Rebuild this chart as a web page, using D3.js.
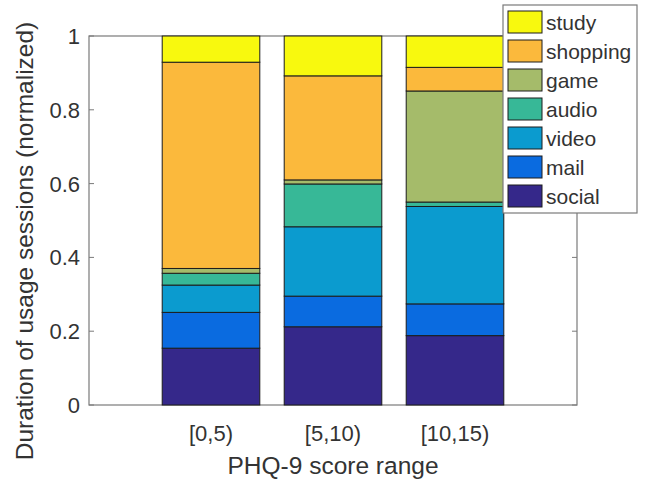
<!DOCTYPE html>
<html>
<head>
<meta charset="utf-8">
<script src="https://cdn.jsdelivr.net/npm/d3@7"></script>
<style>
  html, body { margin: 0; padding: 0; background: #fff; }
  svg { display: block; font-family: "Liberation Sans", Arial, sans-serif; }
</style>
</head>
<body>
<svg id="chart" width="652" height="485"></svg>
<script>
// ---- data ----
const categories = ["[0,5)", "[5,10)", "[10,15)"];
const seriesNames = ["social", "mail", "video", "audio", "game", "shopping", "study"];
const social   = [0.154, 0.212, 0.188];
const mail     = [0.097, 0.083, 0.086];
const video    = [0.074, 0.188, 0.264];
const audio    = [0.032, 0.116, 0.012];
const game     = [0.013, 0.011, 0.301];
const shopping = [0.559, 0.282, 0.064];
const study    = [0.071, 0.108, 0.085];
const yTicks = [0, 0.2, 0.4, 0.6, 0.8, 1];
const yTickLabels = ["0", "0.2", "0.4", "0.6", "0.8", "1"];
const colors = ["#35288a", "#0a6be0", "#0b9bcf", "#37b897", "#a5bb6a", "#fbb93c", "#f8f90e"];

const seriesValues = [social, mail, video, audio, game, shopping, study];
const table = categories.map((c, i) => {
  const row = { cat: c, idx: i + 1 };
  seriesNames.forEach((s, k) => { row[s] = seriesValues[k][i]; });
  return row;
});

const svg = d3.select("#chart");
const pLeft = 89, pRight = 577, pTop = 36, pBottom = 405;
const x = d3.scaleLinear().domain([0, 4]).range([pLeft, pRight]);
const y = d3.scaleLinear().domain([0, 1]).range([pBottom, pTop]);
const barW = 0.8;
const axisColor = "#7a7a7a";
const textColor = "#333333";

// axes box
const g = svg.append("g");
g.append("rect").attr("x", pLeft).attr("y", pTop).attr("width", pRight - pLeft).attr("height", pBottom - pTop)
  .attr("fill", "none").attr("stroke", axisColor).attr("stroke-width", 1.2);

// inward ticks (mirrored)
const tickLen = 5;
yTicks.forEach(t => {
  g.append("line").attr("x1", pLeft).attr("x2", pLeft + tickLen).attr("y1", y(t)).attr("y2", y(t)).attr("stroke", axisColor);
  g.append("line").attr("x1", pRight).attr("x2", pRight - tickLen).attr("y1", y(t)).attr("y2", y(t)).attr("stroke", axisColor);
});
table.forEach(d => {
  g.append("line").attr("x1", x(d.idx)).attr("x2", x(d.idx)).attr("y1", pBottom).attr("y2", pBottom - tickLen).attr("stroke", axisColor);
  g.append("line").attr("x1", x(d.idx)).attr("x2", x(d.idx)).attr("y1", pTop).attr("y2", pTop + tickLen).attr("stroke", axisColor);
});

// stacked bars
const stack = d3.stack().keys(seriesNames);
const stacked = stack(table);
const color = d3.scaleOrdinal().domain(seriesNames).range(colors);
stacked.forEach(layer => {
  svg.append("g").selectAll("rect").data(layer).join("rect")
    .attr("x", d => x(d.data.idx - barW / 2))
    .attr("width", d => x(d.data.idx + barW / 2) - x(d.data.idx - barW / 2))
    .attr("y", d => y(d[1]))
    .attr("height", d => y(d[0]) - y(d[1]))
    .attr("fill", color(layer.key))
    .attr("stroke", "#1c1c1c")
    .attr("stroke-width", 1);
});

// y tick labels
svg.append("g").selectAll("text").data(yTicks).join("text")
  .attr("x", pLeft - 9).attr("y", d => y(d)).attr("dy", "0.36em")
  .attr("text-anchor", "end").attr("font-size", 22).attr("fill", textColor)
  .text((d, i) => yTickLabels[i]);

// x tick labels
svg.append("g").selectAll("text").data(table).join("text")
  .attr("x", d => x(d.idx)).attr("y", 441)
  .attr("text-anchor", "middle").attr("font-size", 22).attr("fill", textColor)
  .text(d => d.cat);

// axis labels
svg.append("text").attr("x", x(2)).attr("y", 474).attr("text-anchor", "middle")
  .attr("font-size", 24.5).attr("fill", textColor).text("PHQ-9 score range");
svg.append("text").attr("transform", "translate(33,241) rotate(-90)").attr("text-anchor", "middle")
  .attr("font-size", 24.5).attr("fill", textColor).text("Duration of usage sessions (normalized)");

// legend
const lg = svg.append("g");
lg.append("rect").attr("x", 503).attr("y", 5).attr("width", 134).attr("height", 208)
  .attr("fill", "#fff").attr("stroke", axisColor).attr("stroke-width", 1.2);
const legendOrder = seriesNames.slice().reverse();
legendOrder.forEach((s, i) => {
  const yy = 11 + i * 29;
  lg.append("rect").attr("x", 508).attr("y", yy).attr("width", 34).attr("height", 22)
    .attr("fill", color(s)).attr("stroke", "#1c1c1c").attr("stroke-width", 1);
  lg.append("text").attr("x", 546).attr("y", yy + 11).attr("dy", "0.36em")
    .attr("font-size", 21).attr("fill", textColor).text(s);
});
</script>
</body>
</html>
